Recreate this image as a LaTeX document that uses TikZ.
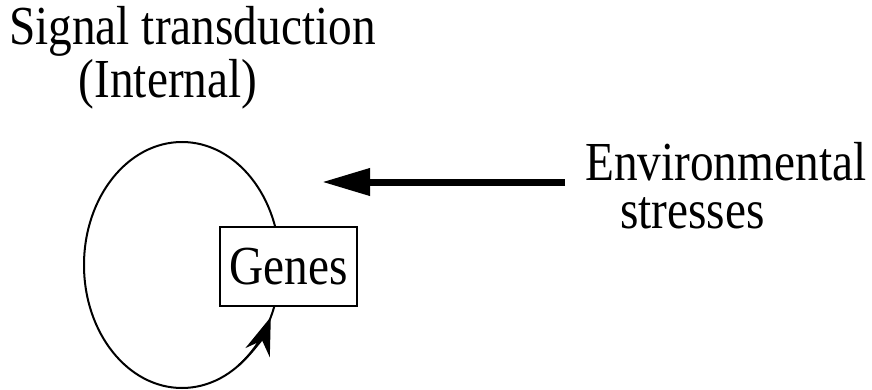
\documentclass[tikz,border=0pt]{standalone}
\usepackage{fontspec}
\setmainfont[FakeStretch=0.86]{Liberation Serif}
\usetikzlibrary{arrows.meta,calc}
\begin{document}
\begin{tikzpicture}[x=1pt,y=1pt,
  lbl/.style={font=\fontsize{55}{60}\selectfont, inner sep=0pt},
  thinline/.style={line width=2pt},
  genebox/.style={draw, line width=2pt, fill=white, minimum width=137pt, minimum height=79pt, inner sep=0pt, font=\fontsize{55}{60}\selectfont}]
\useasboundingbox (0,0) rectangle (872,389);
\coordinate (c) at (182,124);
\draw[thinline] (c) ellipse [x radius=98, y radius=123];
\draw[thinline, -{Stealth[length=38pt,width=26pt,inset=13pt]}]
  ($(c)+(-55:98 and 123)$) arc[start angle=-55, end angle=-25, x radius=98, y radius=123];
\node[genebox] (genes) at (288.5,122.5) {Genes};
\node[lbl, anchor=base west] (sig) at (9,344) {Signal transduction};
\node[lbl, anchor=base] (int) at (168,291) {(Internal)};
\node[lbl, anchor=base west] (env) at (585,209) {Environmental};
\node[lbl, anchor=base west] (str) at (620,161) {stresses};
\coordinate (envtail) at (565,207);
\coordinate (envtip) at (322,207);
\draw[line width=7pt, -{Triangle[length=48pt,width=26pt]}] (envtail) -- (envtip);
\end{tikzpicture}
\end{document}
